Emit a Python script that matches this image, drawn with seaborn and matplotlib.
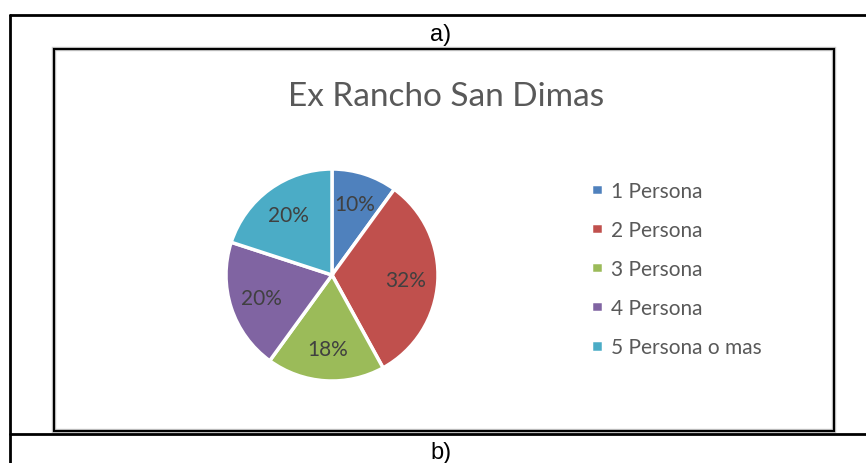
import matplotlib
matplotlib.use("Agg")
import matplotlib.pyplot as plt
import seaborn as sns
from matplotlib.patches import Rectangle
from matplotlib.lines import Line2D

# Data
categories = ['1 Persona', '2 Persona', '3 Persona', '4 Persona', '5 Persona o mas']
shares = [10, 32, 18, 20, 20]
colors = ['#4F81BD', '#C0504D', '#9BBB59', '#8064A2', '#4BACC6']
title = "Ex Rancho San Dimas"

sns.set_theme(style="white")
plt.rcParams['font.family'] = ['Lato', 'DejaVu Sans']

W, H = 866, 464
fig = plt.figure(figsize=(W / 100, H / 100), dpi=100)
fig.patch.set_facecolor('white')


def fx(x):
    return x / W


def fy(y):
    return 1 - y / H


# Outer table cell lines
fig.add_artist(Line2D([fx(10), fx(10)], [fy(16), 0], color='black', lw=2))
fig.add_artist(Line2D([fx(10), 1], [fy(16), fy(16)], color='black', lw=2))
fig.add_artist(Line2D([fx(10), 1], [fy(434.5), fy(434.5)], color='black', lw=2))

# Inner chart frame
fig.add_artist(Rectangle((fx(54), fy(432)), fx(834) - fx(54), fy(50) - fy(432),
                         fill=False, edgecolor='#d0d0d0', lw=3.2))
fig.add_artist(Rectangle((fx(54), fy(432)), fx(834) - fx(54), fy(50) - fy(432),
                         fill=False, edgecolor='black', lw=1.6))

fig.text(fx(441), fy(41), "a)", ha='center', va='baseline', fontsize=17,
         family='Liberation Sans', color='black')
fig.text(fx(441), fy(459), "b)", ha='center', va='baseline', fontsize=17,
         family='Liberation Sans', color='black')

fig.text(fx(446), fy(97), title, ha='center', va='center', fontsize=24,
         color='#595959')

# Pie
cx, cy, r = 332, 276, 106
ax = fig.add_axes([fx(cx - 1.25 * r), fy(cy + 1.25 * r), 2.5 * r / W, 2.5 * r / H])
wedges, texts, autotexts = ax.pie(
    shares, colors=sns.color_palette(colors), startangle=90, counterclock=False,
    autopct='%1.0f%%', pctdistance=0.7,
    wedgeprops=dict(edgecolor='white', linewidth=2.5),
    textprops=dict(fontsize=15, color='#404040'))
ax.set_xlim(-1.25, 1.25)
ax.set_ylim(-1.25, 1.25)
ax.set_aspect('equal')
ax.axis('off')

leg = fig.legend(wedges, categories, loc='upper left',
                 bbox_to_anchor=(fx(572), fy(163)), frameon=False,
                 handlelength=0.6, handleheight=0.45, handletextpad=0.35,
                 labelspacing=0.92, fontsize=15)
for t in leg.get_texts():
    t.set_color('#595959')

fig.savefig('out.png', dpi=100)
